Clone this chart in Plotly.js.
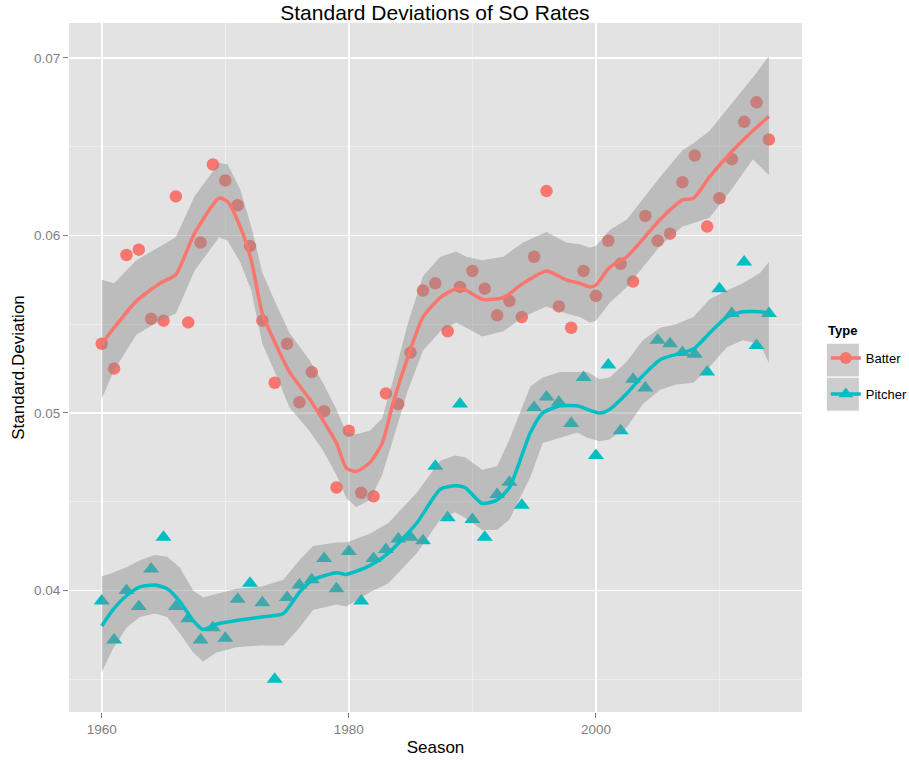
<!DOCTYPE html>
<html>
<head>
<meta charset="utf-8">
<script src="https://cdn.plot.ly/plotly-3.0.1.min.js"></script>
<style>html,body{margin:0;padding:0;background:#fff;}#chart{width:909px;height:761px;}</style>
</head>
<body>
<div id="chart"></div>
<script>
// ---- Data ----
const seasons = [1960,1961,1962,1963,1964,1965,1966,1967,1968,1969,1970,1971,1972,1973,1974,1975,1976,1977,1978,1979,1980,1981,1982,1983,1984,1985,1986,1987,1988,1989,1990,1991,1992,1993,1994,1995,1996,1997,1998,1999,2000,2001,2002,2003,2004,2005,2006,2007,2008,2009,2010,2011,2012,2013,2014];

const batterSD = [0.0539,0.0525,0.0589,0.0592,0.0553,0.0552,0.0622,0.0551,0.0596,0.0640,0.0631,0.0617,0.0594,0.0552,0.0517,0.0539,0.0506,0.0523,0.0501,0.0458,0.0490,0.0455,0.0453,0.0511,0.0505,0.0534,0.0569,0.0573,0.0546,0.0571,0.0580,0.0570,0.0555,0.0563,0.0554,0.0588,0.0625,0.0560,0.0548,0.0580,0.0566,0.0597,0.0584,0.0574,0.0611,0.0597,0.0601,0.0630,0.0645,0.0605,0.0621,0.0643,0.0664,0.0675,0.0654];

const pitcherSD = [0.0394,0.0372,0.0400,0.0391,0.0412,0.0430,0.0391,0.0384,0.0372,0.0379,0.0373,0.0395,0.0404,0.0393,0.0350,0.0396,0.0403,0.0406,0.0418,0.0401,0.0422,0.0394,0.0418,0.0423,0.0429,0.0430,0.0428,0.0470,0.0441,0.0505,0.0440,0.0430,0.0454,0.0461,0.0448,0.0503,0.0509,0.0506,0.0494,0.0520,0.0476,0.0527,0.0490,0.0519,0.0514,0.0541,0.0539,0.0534,0.0533,0.0523,0.0570,0.0556,0.0585,0.0538,0.0556];

// smoothed curve (loess) and confidence band
const batterSmoothYear = [1960,1961,1962.8,1964.7,1966,1967.5,1969.5,1970.2,1971.2,1972.1,1973,1974.2,1975.2,1976.8,1977.9,1979,1979.8,1980.6,1981.7,1982.7,1983.6,1984.8,1986,1987.4,1988.7,1989.5,1990.8,1992.5,1994.1,1996,1997.6,1998.7,1999.5,2000,2001.1,2002.5,2005.2,2007,2007.9,2009.2,2011.1,2012.7,2014];
const batterSmooth = [0.0539,0.0548,0.0563,0.0573,0.0578,0.0601,0.0621,0.0619,0.0605,0.0586,0.0556,0.0537,0.0523,0.0508,0.0496,0.0483,0.0469,0.0467,0.0472,0.0483,0.0506,0.0532,0.0554,0.0565,0.0570,0.0569,0.0564,0.0565,0.0573,0.0580,0.0575,0.0573,0.0571,0.0572,0.0582,0.0588,0.0609,0.0620,0.0621,0.0633,0.0648,0.0659,0.0667];
const batterUpper = [0.0575,0.0573,0.0586,0.0594,0.0599,0.0622,0.0641,0.0640,0.0626,0.0605,0.0579,0.0560,0.0545,0.0530,0.0517,0.0502,0.0489,0.0488,0.0490,0.0497,0.0519,0.0551,0.0577,0.0588,0.0591,0.0588,0.0586,0.0588,0.0596,0.0602,0.0596,0.0595,0.0593,0.0594,0.0603,0.0609,0.0633,0.0648,0.0652,0.0659,0.0675,0.0689,0.0701];
const batterLower = [0.0508,0.0524,0.0544,0.0552,0.0556,0.0580,0.0599,0.0597,0.0585,0.0569,0.0539,0.0520,0.0503,0.0490,0.0479,0.0465,0.0452,0.0447,0.0451,0.0465,0.0485,0.0513,0.0535,0.0546,0.0551,0.0548,0.0543,0.0546,0.0554,0.0560,0.0556,0.0554,0.0551,0.0552,0.0562,0.0571,0.0594,0.0605,0.0607,0.0610,0.0627,0.0643,0.0634];

const pitcherSmoothYear = [1960,1960.9,1962,1963.1,1964.3,1965.3,1966.3,1967.4,1968.2,1969.3,1970.9,1972.9,1974.7,1976,1977.1,1979,1979.8,1981.7,1983.2,1985.5,1987.4,1988.6,1989.4,1990.8,1992,1993,1994.7,1995.7,1997.1,1998.5,1999.3,2000.3,2001.1,2002.5,2003.8,2005.2,2006.5,2007.9,2009.2,2010.6,2011.9,2013.3,2014];
const pitcherSmooth = [0.0380,0.0389,0.0397,0.0402,0.0403,0.0401,0.0394,0.0383,0.0378,0.0381,0.0383,0.0385,0.0387,0.0399,0.0406,0.0410,0.0409,0.0414,0.0421,0.0438,0.0457,0.0459,0.0458,0.0449,0.0451,0.0458,0.0489,0.0500,0.0504,0.0504,0.0502,0.0500,0.0502,0.0511,0.0521,0.0530,0.0533,0.0536,0.0545,0.0554,0.0557,0.0557,0.0556];
const pitcherUpper = [0.0408,0.0410,0.0413,0.0417,0.0420,0.0419,0.0413,0.0400,0.0396,0.0398,0.0401,0.0402,0.0406,0.0417,0.0425,0.0427,0.0427,0.0432,0.0438,0.0455,0.0473,0.0476,0.0475,0.0468,0.0470,0.0485,0.0515,0.0520,0.0523,0.0523,0.0523,0.0519,0.0520,0.0529,0.0541,0.0548,0.0550,0.0554,0.0564,0.0569,0.0573,0.0579,0.0585];
const pitcherLower = [0.0354,0.0367,0.0379,0.0385,0.0387,0.0385,0.0376,0.0365,0.0360,0.0365,0.0368,0.0369,0.0369,0.0379,0.0389,0.0392,0.0391,0.0399,0.0404,0.0421,0.0440,0.0444,0.0441,0.0434,0.0434,0.0440,0.0464,0.0483,0.0486,0.0489,0.0486,0.0484,0.0485,0.0492,0.0505,0.0513,0.0516,0.0517,0.0526,0.0537,0.0541,0.0539,0.0528];

const typeNames = ["Batter","Pitcher"];
const typeColors = ["#F8766D","#00BFC4"];
const xTicks = [1960, 1980, 2000];
const yTicks = [0.04, 0.05, 0.06, 0.07];

// ---- Traces ----
const bandFill = 'rgba(140,140,140,0.45)';
function band(xs, up, lo) {
  return {
    x: xs.concat(xs.slice().reverse()),
    y: up.concat(lo.slice().reverse()),
    type: 'scatter', mode: 'lines', fill: 'toself',
    fillcolor: bandFill, line: {width: 0},
    hoverinfo: 'skip', showlegend: false
  };
}

const traces = [
  {x: seasons, y: batterSD, type: 'scatter', mode: 'markers', showlegend: false,
   marker: {color: typeColors[0], size: 12.5, symbol: 'circle'}},
  {x: seasons, y: pitcherSD, type: 'scatter', mode: 'markers', showlegend: false,
   marker: {color: typeColors[1], size: 14, symbol: 'triangle-up'}},
  band(batterSmoothYear, batterUpper, batterLower),
  band(pitcherSmoothYear, pitcherUpper, pitcherLower),
  {x: batterSmoothYear, y: batterSmooth, type: 'scatter', mode: 'lines', showlegend: false,
   line: {color: typeColors[0], width: 3.5, shape: 'spline', smoothing: 0.6}},
  {x: pitcherSmoothYear, y: pitcherSmooth, type: 'scatter', mode: 'lines', showlegend: false,
   line: {color: typeColors[1], width: 3.5, shape: 'spline', smoothing: 0.6}},
  {x: [null], y: [null], type: 'scatter', mode: 'lines+markers', name: typeNames[0], legendgroup: 'b',
   line: {color: typeColors[0], width: 3.5}, marker: {color: typeColors[0], size: 12, symbol: 'circle'}},
  {x: [null], y: [null], type: 'scatter', mode: 'lines+markers', name: typeNames[1], legendgroup: 'p',
   line: {color: typeColors[1], width: 3.5}, marker: {color: typeColors[1], size: 13, symbol: 'triangle-up'}}
];

// plot area in pixels: left 69, right 801.7, top 22.7, bottom 712
const PL = 69, PR = 801.7, PT = 22.7, PB = 712;
const px = v => (v - PL) / (PR - PL);
const py = v => (PB - v) / (PB - PT);

const layout = {
  width: 909, height: 761,
  margin: {l: PL, r: 909 - PR, t: PT, b: 761 - PB, autoexpand: false},
  paper_bgcolor: '#ffffff',
  plot_bgcolor: '#E3E3E3',
  font: {family: 'Liberation Sans, Arial, sans-serif', color: '#000'},
  title: {text: 'Standard Deviations of SO Rates', x: 0.4785, xanchor: 'center', xref: 'container',
          y: 0.984, yanchor: 'middle', font: {size: 21, color: '#000'}},
  xaxis: {
    range: [1957.35, 2016.68], tickvals: xTicks, ticktext: xTicks.map(String),
    showgrid: true, gridcolor: '#FFFFFF', gridwidth: 1.6, zeroline: false,
    ticks: 'outside', ticklen: 5, tickcolor: '#7F7F7F', tickwidth: 1,
    tickfont: {size: 13.5, color: '#7F7F7F'},
    minor: {tickvals: [1970, 1990, 2010], showgrid: true, gridcolor: '#F0F0F0', gridwidth: 0.8, ticks: ''},
    title: {text: 'Season', font: {size: 17, color: '#000'}, standoff: 4},
    showline: false
  },
  yaxis: {
    range: [0.03315, 0.07197], tickvals: yTicks, ticktext: yTicks.map(v => v.toFixed(2)),
    showgrid: true, gridcolor: '#FFFFFF', gridwidth: 1.6, zeroline: false,
    ticks: 'outside', ticklen: 5, tickcolor: '#7F7F7F', tickwidth: 1,
    tickfont: {size: 13.5, color: '#7F7F7F'},
    minor: {tickvals: [0.035, 0.045, 0.055, 0.065], showgrid: true, gridcolor: '#F0F0F0', gridwidth: 0.8, ticks: ''},
    title: {text: 'Standard.Deviation', font: {size: 17, color: '#000'}, standoff: 5},
    showline: false
  },
  legend: {
    x: px(825.5), xanchor: 'left', y: py(343), yanchor: 'top',
    font: {size: 13, color: '#000'},
    bgcolor: 'rgba(0,0,0,0)', tracegroupgap: 16, itemwidth: 30, traceorder: 'grouped'
  },
  annotations: [
    {text: '<b>Type</b>', xref: 'paper', yref: 'paper', x: px(826), y: py(330), xanchor: 'left', yanchor: 'middle',
     showarrow: false, font: {size: 13, color: '#000'}}
  ],
  shapes: [
    {type: 'rect', xref: 'paper', yref: 'paper', x0: px(826), x1: px(859), y0: py(377), y1: py(343),
     fillcolor: '#CDCDCD', line: {color: '#FFFFFF', width: 1}, layer: 'below'},
    {type: 'rect', xref: 'paper', yref: 'paper', x0: px(826), x1: px(859), y0: py(411), y1: py(377),
     fillcolor: '#CDCDCD', line: {color: '#FFFFFF', width: 1}, layer: 'below'}
  ],
  showlegend: true
};

Plotly.newPlot('chart', traces, layout, {displayModeBar: false, staticPlot: true});
</script>
</body>
</html>
